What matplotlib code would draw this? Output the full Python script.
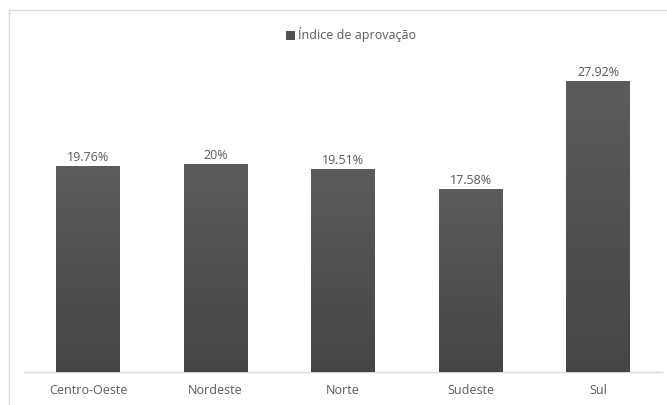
import matplotlib
matplotlib.use("Agg")
import matplotlib.pyplot as plt
import numpy as np
from matplotlib.patches import Patch
from matplotlib.lines import Line2D
from matplotlib.colors import LinearSegmentedColormap

categories = ["Centro-Oeste", "Nordeste", "Norte", "Sudeste", "Sul"]
values = [19.76, 20.00, 19.51, 17.58, 27.92]
labels = ["19.76%", "20%", "19.51%", "17.58%", "27.92%"]
series_name = "Índice de aprovação"

plt.rcParams['font.family'] = ['Open Sans', 'DejaVu Sans']
text_color = "#595959"

fig = plt.figure(figsize=(6.67, 4.05), dpi=100)
fig.patch.set_facecolor("white")

# outer chart border (cropped frame)
fig.add_artist(Line2D([9/667, 1.0], [1-10/405, 1-10/405], color="#d9d9d9", lw=1))
fig.add_artist(Line2D([9/667, 9/667], [0, 1-10/405], color="#d9d9d9", lw=1))

ax = fig.add_axes([24.25/667, 33/405, 637.5/667, 312.6/405])
x = np.arange(len(categories))
bars = ax.bar(x, values, width=0.5, color="#505050", zorder=2)

# vertical gradient inside bars
grad = np.linspace(0, 1, 256).reshape(-1, 1)
cmap = LinearSegmentedColormap.from_list("g", ["#454545", "#5c5c5c"])
for b in bars:
    bx, by = b.get_x(), b.get_y()
    w, h = b.get_width(), b.get_height()
    im = ax.imshow(grad, extent=[bx, bx + w, by, by + h], origin="lower",
                   aspect="auto", cmap=cmap, zorder=3)
    im.set_clip_path(b)
ax.set_xlim(-0.5, len(categories) - 0.5)
ax.set_ylim(0, 30)

for xi, v, lab in zip(x, values, labels):
    ax.annotate(lab, (xi, v), xytext=(0, 1.5), textcoords="offset points",
                ha="center", va="bottom", fontsize=9, color=text_color)

ax.set_xticks(x)
ax.set_xticklabels(categories, fontsize=9, color=text_color)
ax.tick_params(axis="x", length=0, pad=9)
ax.set_yticks([])
for s in ["top", "right", "left"]:
    ax.spines[s].set_visible(False)
ax.spines["bottom"].set_color("#d9d9d9")
ax.spines["bottom"].set_linewidth(1)
ax.set_facecolor("none")

handle = Patch(facecolor="#505050", edgecolor="none")
fig.legend([handle], [series_name], loc="center", bbox_to_anchor=(351/667, 1-35/405),
           frameon=False, fontsize=9, labelcolor=text_color,
           handlelength=0.7, handleheight=0.7, handletextpad=0.3)

fig.savefig("out.png", dpi=100, facecolor="white")
